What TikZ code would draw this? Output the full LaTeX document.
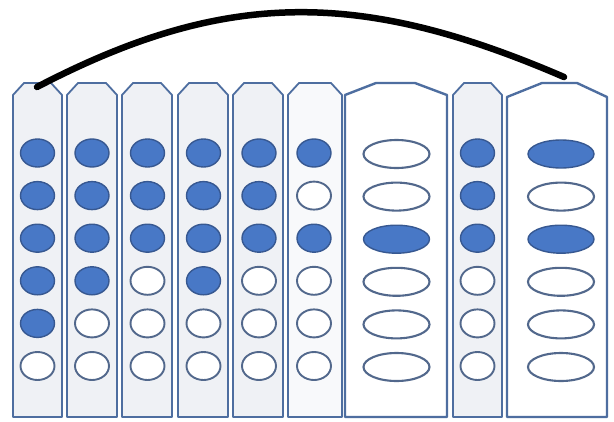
\documentclass[tikz,border=0pt]{standalone}
\usetikzlibrary{shapes.geometric}
\definecolor{colfill}{RGB}{239,241,245}
\definecolor{colfilllight}{RGB}{248,249,251}
\definecolor{colborder}{RGB}{78,110,160}
\definecolor{dotfill}{RGB}{72,120,198}
\definecolor{dotline}{RGB}{55,88,145}
\definecolor{ringline}{RGB}{82,104,140}
\begin{document}
\begin{tikzpicture}[x=1pt,y=-1pt,
  colshape/.style={draw=colborder,line width=1.8pt,line join=round},
  widecol/.style={draw=colborder,line width=2.4pt,line join=round,fill=white},
  dot1/.style={ellipse,minimum width=34pt,minimum height=28pt,inner sep=0pt,fill=dotfill,draw=dotline,line width=1.4pt},
  dot0/.style={ellipse,minimum width=34pt,minimum height=28pt,inner sep=0pt,fill=white,draw=ringline,line width=1.9pt},
  wide1/.style={ellipse,minimum width=66pt,minimum height=28pt,inner sep=0pt,fill=dotfill,draw=dotline,line width=1.4pt},
  wide0/.style={ellipse,minimum width=66pt,minimum height=28pt,inner sep=0pt,fill=white,draw=ringline,line width=2.1pt},
  arcline/.style={line width=6.5pt,line cap=round,black}]
\useasboundingbox (0,0) rectangle (614,421);
% narrow columns
\foreach \l/\r/\f in {13/62/colfill,67/117/colfill,122/172/colfill,178/228/colfill,233/283/colfill,288/342/colfilllight,453/502/colfill}{
  \path[colshape,fill=\f] (\l,417) -- (\l,95) -- ({\l+11},83) -- ({\r-11},83) -- (\r,95) -- (\r,417) -- cycle;
}
% wide columns
\path[widecol] (345,417) -- (345,95) -- (376,83) -- (415,83) -- (447,95) -- (447,417) -- cycle;
\path[widecol] (507,417) -- (507,97) -- (542,83) -- (577,83) -- (607,97) -- (607,417) -- cycle;
% dots in narrow columns
\foreach \x/\p [count=\i] in {37.5/{1,1,1,1,1,0},92/{1,1,1,1,0,0},147.5/{1,1,1,0,0,0},203.5/{1,1,1,1,0,0},259/{1,1,1,0,0,0},314/{1,0,1,0,0,0},477.5/{1,1,1,0,0,0}}{
  \foreach \s [count=\j] in \p {
    \node[dot\s] (d\i-\j) at (\x,{153+42.6*(\j-1)}) {};
  }
}
% ellipses in wide columns
\foreach \x/\p [count=\i] in {396.5/{0,0,1,0,0,0},561/{1,0,1,0,0,0}}{
  \foreach \s [count=\j] in \p {
    \node[wide\s] (w\i-\j) at (\x,{154+42.6*(\j-1)}) {};
  }
}
% arc
\coordinate (arcL) at (37,87);
\coordinate (arcR) at (564,77);
\draw[arcline] (arcL) .. controls (225,-11) and (360,-11) .. (arcR);
\end{tikzpicture}
\end{document}
